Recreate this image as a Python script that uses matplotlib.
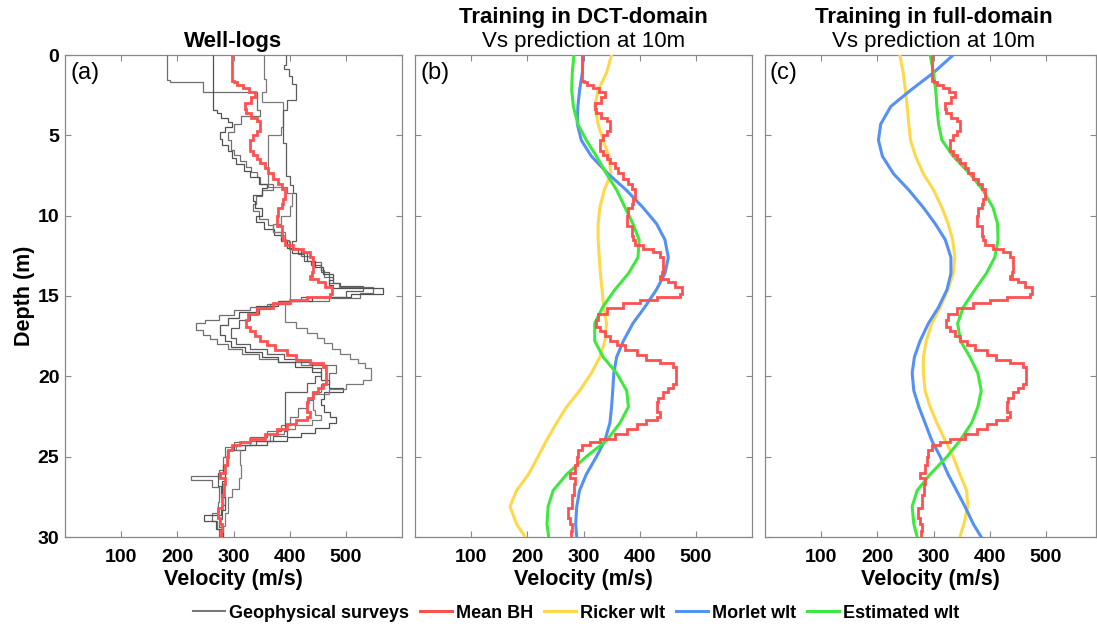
import numpy as np
import matplotlib
matplotlib.use("Agg")
import matplotlib.pyplot as plt
from matplotlib.lines import Line2D

plt.rcParams["font.family"] = ["Liberation Sans", "DejaVu Sans"]

# ---------------- data ----------------
# Mean borehole Vs profile: layer tops (m) and velocities (m/s); last layer ends at 30 m
bh_tops = [0, 1.6, 1.7, 1.85, 2.05, 2.3, 2.6, 3.0, 3.35, 3.6, 3.9, 4.1, 4.75, 5.0, 5.3,
           5.95, 6.2, 6.45, 6.75, 7.05, 7.35, 7.7, 8.05, 8.35, 8.95, 9.3, 9.55, 10.05,
           10.65, 11.25, 11.5, 11.85, 12.05, 12.25, 12.55, 13.5, 13.75, 13.95, 14.15,
           14.45, 14.85, 15.05, 15.25, 15.45, 15.75, 16.1, 16.5, 16.9, 17.2, 17.5, 17.8,
           18.05, 18.35, 18.7, 19.0, 19.2, 19.4, 20.45, 20.7, 21.0, 21.35, 21.6, 22.2,
           22.5, 22.7, 22.95, 23.25, 23.6, 23.9, 24.1, 24.3, 24.6, 25.0, 25.5, 26.0,
           26.35, 26.7, 27.4, 28.2, 28.8, 29.2, 29.6]
bh_vs = [297, 300, 307, 317, 328, 338, 332, 320, 323, 332, 341, 347, 341, 335, 329,
         335, 341, 347, 356, 362, 371, 380, 386, 392, 389, 386, 380, 377,
         386, 389, 392, 406, 424, 436, 442, 439, 436, 451, 463,
         475, 472, 430, 400, 371, 341, 326, 323, 329, 338, 347, 359,
         374, 395, 412, 436, 460, 464, 460, 451, 442, 433, 430, 436,
         430, 412, 395, 377, 356, 329, 311, 297, 291, 288, 285, 276,
         285, 283, 279, 273, 276, 279, 277]

# Geophysical survey logs: layer tops (m) and velocities (m/s)
log1_tops = [0, 1.55, 1.66, 2.3, 3.4, 3.8, 4.3, 4.8, 5.3, 5.9, 6.2, 6.6, 7.0, 7.3, 7.6,
             8.0, 8.4, 8.8, 9.3, 9.7, 10.2, 10.6, 11.0, 11.5, 12.1, 12.5, 12.9, 13.4,
             13.8, 14.2, 14.45, 14.8, 15.1, 15.3, 15.5, 15.7, 15.9, 16.2, 16.5, 16.7,
             17.1, 17.4, 17.7, 18.0, 18.3, 18.6, 18.9, 19.1, 19.3, 19.8, 20.5, 21.0,
             21.5, 22.0, 22.5, 23.0, 23.4, 23.8, 24.1, 24.4, 25.0, 25.8, 26.2, 26.45,
             26.9, 27.8, 28.5, 29.0, 29.5]
log1_vs = [181, 187, 246, 341, 347, 314, 300, 290, 296, 300, 312, 323, 332, 341, 347,
           370, 350, 340, 335, 345, 362, 370, 385, 398, 420, 440, 455, 462,
           470, 488, 548, 525, 470, 400, 360, 330, 300, 275, 250, 234,
           245, 258, 270, 290, 315, 345, 380, 420, 483, 470, 455, 440,
           430, 415, 400, 385, 360, 330, 300, 285, 282, 275, 225, 262,
           275, 272, 262, 270, 275]

log2_tops = [0, 3.4, 3.6, 3.9, 4.2, 4.5, 4.8, 5.2, 5.6, 6.0, 6.4, 6.8, 7.2, 7.6, 8.0,
             8.3, 8.7, 9.1, 9.5, 10.0, 10.4, 10.8, 11.2, 11.6, 12.0, 12.3, 12.8, 13.2,
             13.6, 14.0, 14.3, 14.5, 14.85, 15.05, 15.3, 15.6, 16.0, 16.4, 16.8, 17.4,
             17.8, 18.2, 18.5, 18.8, 19.1, 19.4, 19.7, 20.2, 20.7, 21.0, 21.4, 21.8,
             22.2, 22.5, 22.9, 23.2, 23.5, 23.8, 24.0, 24.3, 24.6, 25.5, 26.5, 27.5,
             28.3, 28.6, 29.0, 29.5]
log2_vs = [264, 270, 278, 290, 298, 285, 276, 280, 290, 298, 305, 318, 330, 345, 360,
           350, 335, 338, 350, 340, 355, 372, 385, 395, 405, 430, 445, 460,
           478, 470, 478, 566, 510, 440, 380, 340, 310, 290, 276, 285,
           296, 320, 350, 380, 410, 440, 455, 470, 495, 462, 455, 462,
           472, 483, 470, 445, 420, 395, 360, 320, 290, 285, 280, 285,
           278, 248, 268, 280]

log3_tops = [0, 1.5, 2.3, 2.9, 4.5, 5.0, 8.2, 8.6, 9.4, 10.0, 10.5, 11.0, 11.6, 15.5,
             16.6, 17.0, 17.3, 17.6, 17.9, 18.3, 18.6, 18.9, 19.2, 19.5, 20.2, 20.5,
             20.8, 21.1, 22.1, 22.4, 22.7, 23.0, 23.3, 23.6, 24.0, 24.3, 24.6, 25.5,
             26.3, 27.0, 27.5, 28.5, 29.3]
log3_vs = [354, 357, 350, 388, 385, 362, 395, 405, 400, 385, 370, 392, 400, 391,
           412, 430, 448, 462, 476, 490, 508, 522, 534, 545, 530, 500,
           470, 442, 445, 455, 440, 410, 390, 365, 330, 305, 311, 314,
           310, 298, 290, 285, 282]

log4_tops = [0, 0.6, 0.9, 1.3, 1.8, 2.8, 3.4, 5.5, 7.5, 8.1, 8.6, 11.6, 12.0, 12.4,
             12.8, 13.1, 13.5, 13.8, 14.2, 14.4, 14.7, 15.05, 15.3, 15.5, 15.8, 16.1,
             16.5, 17.0, 17.6, 18.0, 18.3, 18.6, 18.9, 19.1, 19.5, 20.0, 20.4, 21.0,
             23.4, 23.7, 24.0, 24.3, 24.6, 25.5, 26.0, 26.8, 27.5, 28.0, 28.9, 29.4]
log4_vs = [394, 390, 398, 404, 412, 395, 388, 394, 400, 406, 412, 405, 415, 425,
           438, 455, 470, 477, 490, 530, 501, 420, 385, 365, 345, 330,
           310, 296, 305, 330, 360, 390, 420, 440, 455, 445, 430, 391,
           395, 370, 340, 300, 288, 282, 272, 278, 285, 280, 275, 282]

survey_logs = [(log1_tops, log1_vs), (log2_tops, log2_vs),
               (log3_tops, log3_vs), (log4_tops, log4_vs)]
survey_colors = ["#6e6e6e", "#505050", "#7a7a7a", "#5c5c5c"]

# Predicted Vs profiles (m/s) at these depths (m)
pred_depth = [0, 1.1, 2.2, 3.2, 4.3, 5.3, 6.3, 7.4, 8.4, 9.5, 10.5, 11.5, 12.6, 13.6, 14.6,
              15.7, 16.7, 17.8, 18.8, 19.8, 20.9, 21.9, 22.9, 24.0, 25.0, 26.1, 27.1,
              28.1, 29.2, 30.0]

# DCT-domain training
ricker_dct = [350, 341, 326, 320, 326, 335, 345, 349, 337, 329, 326, 326, 328, 330, 333,
              336, 341, 338, 329, 314, 293, 270, 252, 234, 219, 202, 181, 169, 181, 196]
morlet_dct = [299, 298, 293, 290, 289, 296, 314, 344, 376, 406, 430, 445, 451, 445, 430,
              409, 388, 371, 359, 354, 352, 350, 347, 338, 323, 305, 293, 288, 286, 288]
estim_dct = [283, 280, 279, 282, 290, 305, 323, 341, 359, 374, 388, 399, 397, 380, 356,
             334, 320, 320, 335, 359, 377, 380, 365, 341, 305, 270, 246, 237, 235, 238]

# Full-domain training
ricker_full = [240, 246, 250, 253, 256, 259, 268, 282, 300, 315, 326, 334, 338, 335, 326,
               312, 297, 287, 282, 282, 285, 294, 306, 321, 335, 347, 359, 361, 354, 347]
morlet_full = [335, 300, 259, 224, 206, 202, 209, 229, 256, 282, 303, 321, 331, 331, 324,
               309, 291, 276, 266, 262, 265, 274, 285, 297, 312, 326, 341, 356, 371, 385]
estim_full = [294, 300, 304, 306, 309, 315, 335, 365, 388, 406, 414, 415, 409, 394, 374,
              353, 343, 348, 365, 379, 385, 379, 368, 347, 324, 294, 271, 262, 265, 271]

vel_ticks = [100, 200, 300, 400, 500]
depth_ticks = [0, 5, 10, 15, 20, 25, 30]

C_RED = "#ff5050"
C_YEL = "#ffd84a"
C_BLU = "#5590f5"
C_GRN = "#3ee83e"
C_GRY = "#777777"

# ---------------- figure ----------------
W, H = 1097, 629
fig = plt.figure(figsize=(W / 100, H / 100), dpi=100)


def px_axes(left, top, right, bottom):
    return fig.add_axes([left / W, 1 - bottom / H, (right - left) / W, (bottom - top) / H])


ax_a = px_axes(65, 55, 402, 537)
ax_b = px_axes(415, 55, 752, 537)
ax_c = px_axes(765, 55, 1096, 537)
axes = [ax_a, ax_b, ax_c]
xmax = [600, 600, 600 * 331 / 337]

for ax, xm in zip(axes, xmax):
    ax.set_xlim(0, xm)
    ax.set_ylim(30, 0)
    ax.set_xticks(vel_ticks)
    ax.set_yticks(depth_ticks)
    ax.tick_params(direction="in", top=True, right=True, length=4, width=0.8,
                   color="#888888", labelsize=14)
    ax.tick_params(axis="x", pad=9)
    ax.tick_params(axis="y", pad=4)
    for lab in ax.get_xticklabels() + ax.get_yticklabels():
        lab.set_fontweight("bold")
    for sp in ax.spines.values():
        sp.set_color("#888888")
        sp.set_linewidth(0.9)
    ax.set_xlabel("Velocity (m/s)", fontsize=15.5, fontweight="bold", labelpad=2)
    # Mean BH staircase
    ax.stairs(bh_vs, bh_tops + [30], orientation="horizontal", baseline=None,
              color=C_RED, lw=2.0, zorder=4)

for ax in (ax_b, ax_c):
    ax.set_yticklabels([])

ax_a.set_ylabel("Depth (m)", fontsize=15.5, fontweight="bold", labelpad=2)

# Panel (a): survey logs
for (tops, vs), col in zip(survey_logs, survey_colors):
    ax_a.stairs(vs, tops + [30], orientation="horizontal", baseline=None,
                color=col, lw=0.9, zorder=3)

# Panel (b) and (c): predictions
for ax, (rk, mo, es) in zip((ax_b, ax_c), ((ricker_dct, morlet_dct, estim_dct),
                                            (ricker_full, morlet_full, estim_full))):
    ax.plot(rk, pred_depth, color=C_YEL, lw=2.2, zorder=3)
    ax.plot(mo, pred_depth, color=C_BLU, lw=2.2, zorder=3)
    ax.plot(es, pred_depth, color=C_GRN, lw=2.2, zorder=3)

for ax, tag in zip(axes, ["(a)", "(b)", "(c)"]):
    ax.text(0.015, 0.985, tag, transform=ax.transAxes, ha="left", va="top",
            fontsize=17)

# Titles
def title_at(xc, yc, text, bold):
    fig.text(xc / W, 1 - yc / H, text, ha="center", va="center", fontsize=16,
             fontweight="bold" if bold else "normal")

title_at((65 + 402) / 2, 42, "Well-logs", True)
title_at((415 + 752) / 2, 17, "Training in DCT-domain", True)
title_at((415 + 752) / 2, 42, "Vs prediction at 10m", False)
title_at((765 + 1102) / 2, 17, "Training in full-domain", True)
title_at((765 + 1102) / 2, 42, "Vs prediction at 10m", False)

# Legend
handles = [Line2D([], [], color=C_GRY, lw=1.5),
           Line2D([], [], color=C_RED, lw=2.2),
           Line2D([], [], color=C_YEL, lw=2.2),
           Line2D([], [], color=C_BLU, lw=2.2),
           Line2D([], [], color=C_GRN, lw=2.2)]
labels = ["Geophysical surveys", "Mean BH", "Ricker wlt", "Morlet wlt", "Estimated wlt"]
fig.legend(handles, labels, loc="center", bbox_to_anchor=(576 / W, 1 - 613 / H),
           ncol=5, frameon=False, prop={"size": 13, "weight": "bold"},
           handlelength=1.8, handletextpad=0.2, columnspacing=0.6)

fig.savefig("out.png", dpi=100)
